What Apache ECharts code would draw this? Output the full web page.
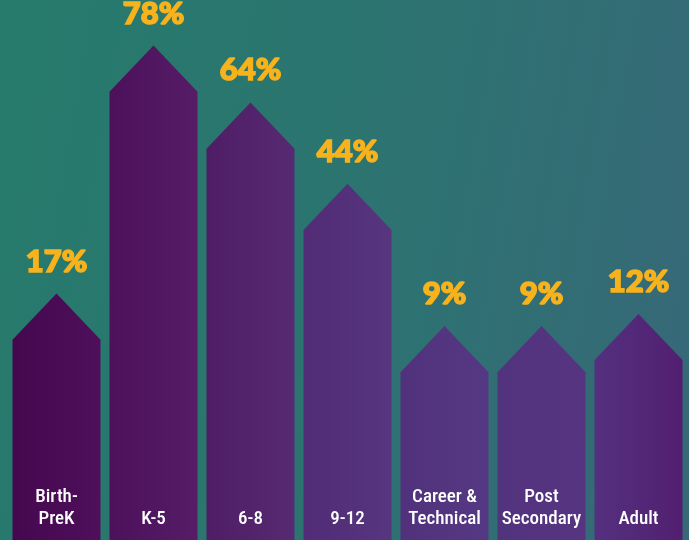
<!DOCTYPE html>
<html>
<head>
<meta charset="utf-8">
<script src="https://cdn.jsdelivr.net/npm/echarts@6/dist/echarts.min.js"></script>
<style>
  html, body { margin: 0; padding: 0; }
  #chart {
    width: 689px; height: 540px;
    background: linear-gradient(100deg, #267b6c 0%, #2b7570 45%, #376878 100%);
  }
</style>
</head>
<body>
<div id="chart"></div>
<script>
const categories = ['Birth-\nPreK', 'K-5', '6-8', '9-12', 'Career &\nTechnical', 'Post\nSecondary', 'Adult'];
const shares = [17, 78, 64, 44, 9, 9, 12];

// left/right shade of each arrow
const barShades = [
  ['#45084f', '#4f0f5b'],
  ['#4d115c', '#561c66'],
  ['#4f1d66', '#562a72'],
  ['#522c76', '#57357f'],
  ['#51317c', '#553883'],
  ['#52337e', '#563481'],
  ['#54307f', '#521f70'],
];

const Y_MIN = -43.6;
const Y_MAX = 89.2;

const chart = echarts.init(document.getElementById('chart'));

function renderItem(params, api) {
  const i = api.value(0);
  const top = api.coord([i, api.value(1)]);
  const bottom = api.coord([i, Y_MIN]);
  const half = api.size([1, 0])[0] * 0.907 / 2;
  const roof = half * 1.05;
  const x = top[0];
  const shade = barShades[i];
  return {
    type: 'group',
    children: [
      {
        type: 'polygon',
        shape: {
          points: [
            [x - half, bottom[1]],
            [x - half, top[1] + roof],
            [x, top[1]],
            [x + half, top[1] + roof],
            [x + half, bottom[1]],
          ],
        },
        style: {
          fill: new echarts.graphic.LinearGradient(0, 0, 1, 0, [
            { offset: 0, color: shade[0] },
            { offset: 1, color: shade[1] },
          ]),
        },
      },
      {
        type: 'text',
        style: {
          text: api.value(1) + '%',
          x: x,
          y: top[1] - 32,
          align: 'center',
          verticalAlign: 'middle',
          fill: '#f7b21c',
          stroke: '#f7b21c',
          lineWidth: 1.6,
          font: '900 31px "Lato Black", Lato, "Open Sans", sans-serif',
        },
      },
    ],
  };
}

const option = {
  animation: false,
  grid: { left: 8, right: 2, top: 0, bottom: 0 },
  xAxis: {
    type: 'category',
    data: categories,
    z: 10,
    axisLine: { show: false },
    axisTick: { show: false },
    axisLabel: {
      inside: true,
      margin: 10,
      color: '#ffffff',
      fontSize: 19,
      fontWeight: 500,
      lineHeight: 22,
      fontFamily: '"Liberation Sans Narrow", "Roboto Condensed", Roboto, sans-serif',
      interval: 0,
    },
  },
  yAxis: {
    type: 'value',
    min: Y_MIN,
    max: Y_MAX,
    show: false,
  },
  series: [
    {
      type: 'custom',
      renderItem: renderItem,
      encode: { x: 0, y: 1 },
      data: shares.map((v, i) => [i, v]),
    },
  ],
};

chart.setOption(option);
</script>
</body>
</html>
